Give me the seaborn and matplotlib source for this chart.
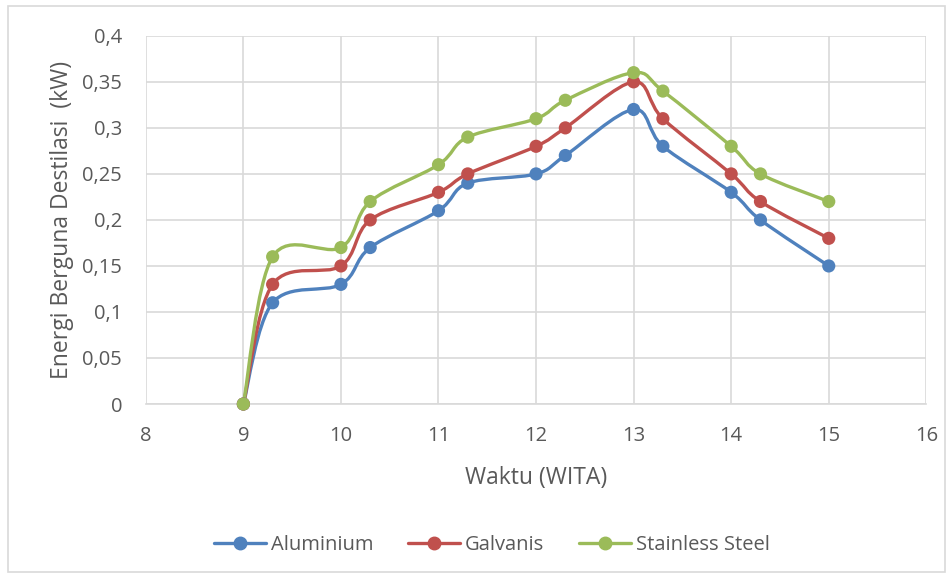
import numpy as np
import pandas as pd
import matplotlib
matplotlib.use("Agg")
import matplotlib.pyplot as plt
import seaborn as sns
from matplotlib.path import Path
from matplotlib.patches import PathPatch, Rectangle
from matplotlib.lines import Line2D

# data
waktu = [9, 9.3, 10, 10.3, 11, 11.3, 12, 12.3, 13, 13.3, 14, 14.3, 15]
aluminium = [0, 0.11, 0.13, 0.17, 0.21, 0.24, 0.25, 0.27, 0.32, 0.28, 0.23, 0.20, 0.15]
galvanis = [0, 0.13, 0.15, 0.20, 0.23, 0.25, 0.28, 0.30, 0.35, 0.31, 0.25, 0.22, 0.18]
stainless = [0, 0.16, 0.17, 0.22, 0.26, 0.29, 0.31, 0.33, 0.36, 0.34, 0.28, 0.25, 0.22]
series_names = ["Aluminium", "Galvanis", "Stainless Steel"]
y_ticks = [0, 0.05, 0.1, 0.15, 0.2, 0.25, 0.3, 0.35, 0.4]
y_ticklabels = ["0", "0,05", "0,1", "0,15", "0,2", "0,25", "0,3", "0,35", "0,4"]
x_ticks = [8, 9, 10, 11, 12, 13, 14, 15, 16]

colors = ["#4F81BD", "#C0504D", "#9BBB59"]
text_col = "#595959"
grid_col = "#D9D9D9"

df = pd.DataFrame({"waktu": waktu * 3,
                   "energi": aluminium + galvanis + stainless,
                   "bahan": [n for n in series_names for _ in waktu]})

sns.set_style("white")
plt.rcParams["font.family"] = ["Open Sans", "DejaVu Sans"]

fig = plt.figure(figsize=(9.53, 5.78), dpi=100)
ax = fig.add_axes([0.153, 0.301, 0.819, 0.637])


def smooth_path(xs, ys):
    # excel-style smoothed line as cubic bezier segments
    pts = np.column_stack([xs, ys]).astype(float)
    n = len(pts)
    verts = [pts[0]]
    codes = [Path.MOVETO]
    for i in range(n - 1):
        p0 = pts[i - 1] if i > 0 else pts[i]
        p1 = pts[i]
        p2 = pts[i + 1]
        p3 = pts[i + 2] if i + 2 < n else pts[i + 1]
        c1 = p1 + (p2 - p0) / 6
        c2 = p2 - (p3 - p1) / 6
        verts += [c1, c2, p2]
        codes += [Path.CURVE4] * 3
    return Path(verts, codes)


for name, c in zip(series_names, colors):
    sub = df[df["bahan"] == name]
    ax.add_patch(PathPatch(smooth_path(sub["waktu"], sub["energi"]),
                           facecolor="none", edgecolor=c, lw=2.4, zorder=3,
                           clip_on=False))

sns.scatterplot(data=df, x="waktu", y="energi", hue="bahan", palette=colors,
                s=90, edgecolor="none", legend=False, ax=ax, zorder=4,
                clip_on=False)

ax.set_xlim(8, 16)
ax.set_ylim(0, 0.4)
ax.set_xticks(x_ticks)
ax.set_xticklabels([str(t) for t in x_ticks])
ax.set_yticks(y_ticks)
ax.set_yticklabels(y_ticklabels)
ax.grid(True, color=grid_col, lw=1.2)
ax.set_axisbelow(True)
for s in ["top", "right", "left"]:
    ax.spines[s].set_visible(False)
ax.spines["bottom"].set_color(grid_col)
ax.spines["bottom"].set_linewidth(1.2)
ax.tick_params(axis="both", length=0, labelsize=14.5, colors=text_col)
ax.tick_params(axis="x", pad=16)
ax.tick_params(axis="y", pad=17)

ax.set_xlabel("Waktu (WITA)", fontsize=16.5, color=text_col, labelpad=14)
ax.set_ylabel("Energi Berguna Destilasi  (kW)", fontsize=16.5, color=text_col, labelpad=6)

handles = [Line2D([0], [0], color=c, lw=2.4, marker="o", markersize=9) for c in colors]
fig.legend(handles, series_names, loc="center", bbox_to_anchor=(0.516, 0.057),
           ncol=3, frameon=False, fontsize=14.5, labelcolor=text_col,
           handlelength=2.6, columnspacing=1.7, handletextpad=0.25)

fig.patches.append(Rectangle((8 / 953, 6 / 578), 937 / 953, 566 / 578,
                             transform=fig.transFigure, fill=False,
                             edgecolor=grid_col, lw=1.2))

fig.savefig("out.png", dpi=100)
